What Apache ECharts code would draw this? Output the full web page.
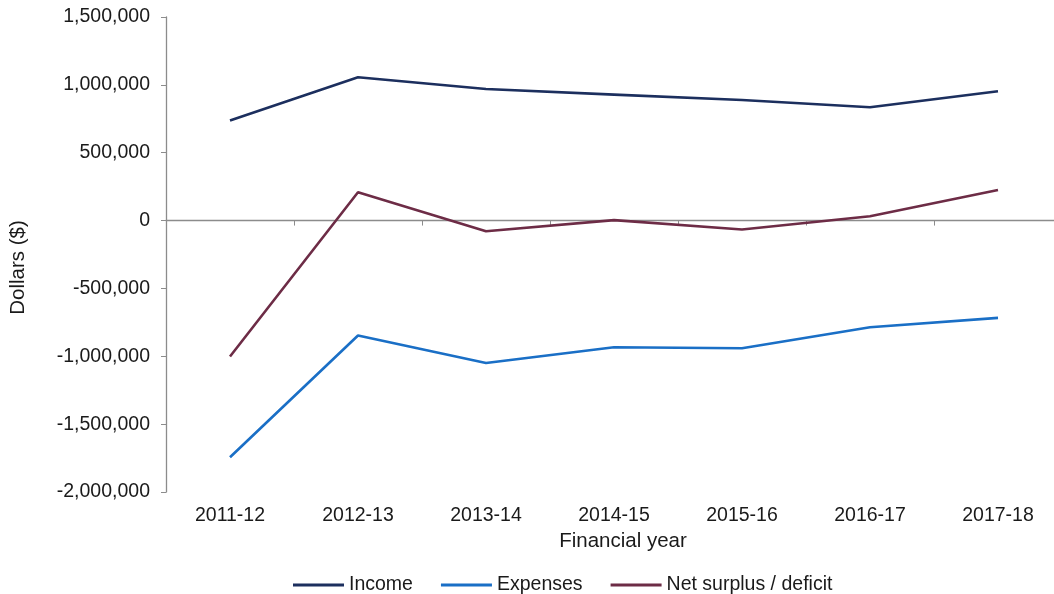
<!DOCTYPE html>
<html>
<head>
<meta charset="utf-8">
<script src="https://cdn.jsdelivr.net/npm/echarts@6/dist/echarts.min.js"></script>
<style>
  html, body { margin: 0; padding: 0; background: #fff; overflow: hidden; }
  /* the plot runs slightly past the right edge of the window */
  #chart { width: 1062px; height: 594px; }
</style>
</head>
<body>
<div id="chart"></div>
<script>
// Financial years on the category axis
const years = ['2011-12', '2012-13', '2013-14', '2014-15', '2015-16', '2016-17', '2017-18'];

// Dollar amounts per year
const income   = [737000, 1056000, 970000, 928000, 888000, 835000, 953000];
const expenses = [-1744000, -847000, -1049000, -933000, -941000, -786000, -717000];
const netSurplus = [-1002000, 209000, -79000, 3000, -66000, 32000, 226000];

// Value axis range
const yMin = -2000000;
const yMax = 1500000;
const yStep = 500000;

const FONT = "'Liberation Sans', Arial, sans-serif";
const TEXT = '#1a1a1a';
const AXIS = '#8c8c8c';
const LABEL_SIZE = 19.5;
const NAME_SIZE = 20.5;

const chart = echarts.init(document.getElementById('chart'));

function fmt(v) {
  return v.toLocaleString('en-US');
}

chart.setOption({
  animation: false,
  backgroundColor: '#ffffff',
  grid: { left: 166, top: 17, bottom: 102, right: 0, containLabel: false },
  legend: {
    left: 288,
    top: 570,
    icon: 'rect',
    itemWidth: 51,
    itemHeight: 3,
    itemGap: 28,
    textStyle: { fontFamily: FONT, fontSize: LABEL_SIZE, color: TEXT },
    data: ['Income', 'Expenses', 'Net surplus / deficit']
  },
  xAxis: [
    {
      // bottom axis: carries the year labels and the axis title
      type: 'category',
      data: years,
      position: 'bottom',
      boundaryGap: true,
      axisLine: { show: false, onZero: false },
      axisTick: { show: false },
      axisLabel: { fontFamily: FONT, fontSize: LABEL_SIZE, color: TEXT, margin: 14 },
      name: 'Financial year',
      nameLocation: 'middle',
      nameGap: 37,
      nameTextStyle: {
        fontFamily: FONT, fontSize: NAME_SIZE, color: TEXT,
        padding: [0, 0, 0, 18]
      },
      splitLine: { show: false }
    },
    {
      // zero line with tick marks between years
      type: 'category',
      data: years,
      position: 'bottom',
      boundaryGap: true,
      axisLine: { show: true, onZero: true, lineStyle: { color: AXIS, width: 1.3 } },
      axisTick: { show: true, length: 5, lineStyle: { color: AXIS } },
      axisLabel: { show: false },
      splitLine: { show: false }
    }
  ],
  yAxis: {
    type: 'value',
    min: yMin,
    max: yMax,
    interval: yStep,
    axisLine: { show: true, lineStyle: { color: AXIS, width: 1.3 } },
    axisTick: { show: true, length: 5, lineStyle: { color: AXIS } },
    axisLabel: {
      fontFamily: FONT, fontSize: LABEL_SIZE, color: TEXT, margin: 16,
      formatter: fmt
    },
    splitLine: { show: false },
    name: 'Dollars ($)',
    nameLocation: 'middle',
    nameGap: 137,
    nameTextStyle: {
      fontFamily: FONT, fontSize: NAME_SIZE, color: TEXT,
      padding: [0, 26, 0, 0]
    }
  },
  series: [
    {
      name: 'Income', type: 'line', data: income, xAxisIndex: 0,
      showSymbol: false, symbol: 'none',
      lineStyle: { color: '#1c2f5e', width: 2.6 },
      itemStyle: { color: '#1c2f5e' }
    },
    {
      name: 'Expenses', type: 'line', data: expenses, xAxisIndex: 0,
      showSymbol: false, symbol: 'none',
      lineStyle: { color: '#1a6fc6', width: 2.6 },
      itemStyle: { color: '#1a6fc6' }
    },
    {
      name: 'Net surplus / deficit', type: 'line', data: netSurplus, xAxisIndex: 0,
      showSymbol: false, symbol: 'none',
      lineStyle: { color: '#6d2c46', width: 2.6 },
      itemStyle: { color: '#6d2c46' }
    }
  ]
});
</script>
</body>
</html>
